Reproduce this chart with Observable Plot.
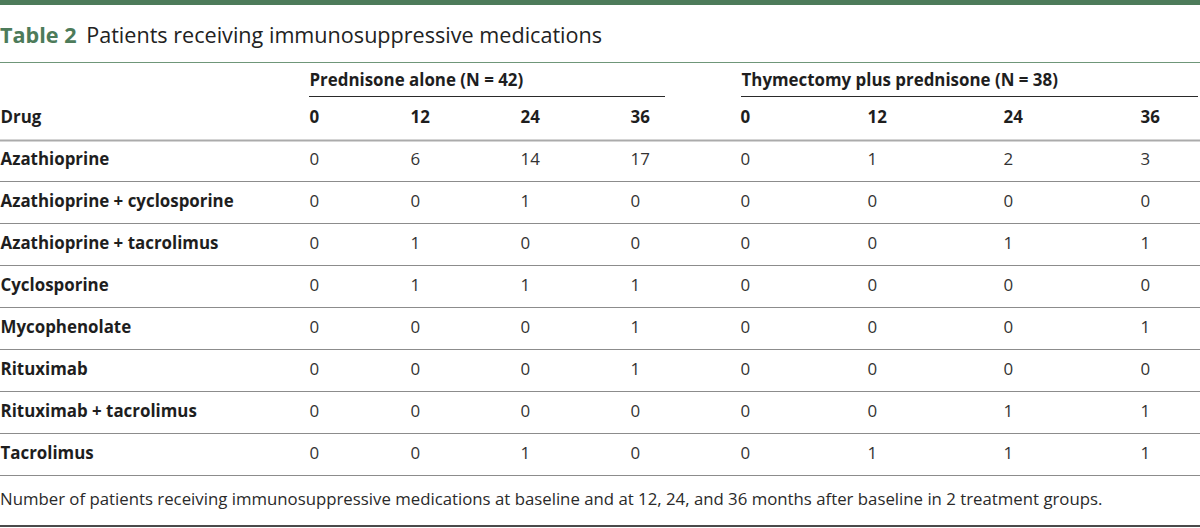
<!DOCTYPE html>
<html>
<head>
<meta charset="utf-8">
<script src="https://cdn.jsdelivr.net/npm/d3@7"></script>
<script src="https://cdn.jsdelivr.net/npm/@observablehq/plot@0.6"></script>
<style>
  html, body { margin: 0; padding: 0; background: #fff; }
  body { width: 1200px; height: 528px; overflow: hidden; position: relative; font-family: "Open Sans", sans-serif; }
  #bar { position: absolute; left: 0; top: 0; width: 1200px; height: 5px; background: #4d7b5a; }
  #title { position: absolute; left: 0; top: 21px; font-size: 21.6px; line-height: 28px; color: #222; white-space: nowrap; }
  #title b { color: #4d7b5a; font-weight: 700; margin-right: 4px; }
  #toprule { position: absolute; left: 0; top: 62px; width: 1200px; height: 1px; background: #6f9679; }
  #chart { position: absolute; left: 0; top: 64px; }
  #caption { position: absolute; left: 0; top: 488px; font-size: 16.8px; line-height: 22px; color: #2a2a2a; white-space: nowrap; }
  #bottom { position: absolute; left: 0; top: 525px; width: 1200px; height: 2px; background: #4a4a4a; }
</style>
</head>
<body>
<div id="bar"></div>
<div id="title"><b>Table 2</b> Patients receiving immunosuppressive medications</div>
<div id="toprule"></div>
<div id="chart"></div>
<div id="caption">Number of patients receiving immunosuppressive medications at baseline and at 12, 24, and 36 months after baseline in 2 treatment groups.</div>
<div id="bottom"></div>
<script>
// ---- data ----
const drugs = [
  "Azathioprine",
  "Azathioprine + cyclosporine",
  "Azathioprine + tacrolimus",
  "Cyclosporine",
  "Mycophenolate",
  "Rituximab",
  "Rituximab + tacrolimus",
  "Tacrolimus"
];
const months = [0, 12, 24, 36];
const groups = ["Prednisone alone (N = 42)", "Thymectomy plus prednisone (N = 38)"];
const drugHeader = "Drug";
const prednisoneAlone = [
  [0, 6, 14, 17],
  [0, 0, 1, 0],
  [0, 1, 0, 0],
  [0, 1, 1, 1],
  [0, 0, 0, 1],
  [0, 0, 0, 1],
  [0, 0, 0, 0],
  [0, 0, 1, 0]
];
const thymectomyPlusPrednisone = [
  [0, 1, 2, 3],
  [0, 0, 0, 0],
  [0, 0, 1, 1],
  [0, 0, 0, 0],
  [0, 0, 0, 1],
  [0, 0, 0, 0],
  [0, 0, 1, 1],
  [0, 1, 1, 1]
];

// ---- layout (pixel units, not data) ----
const W = 1200, H = 414;
const colLeft = [[309, 410, 520, 630], [740, 867, 1003, 1140]];
const groupSpan = [[309, 665], [741, 1198]];
const groupTextY = 16, groupRuleY = 32;
const headerY = 53.5, headerRuleY = 76;
const rowY0 = 95.5, rowStep = 42;
const rowY = i => rowY0 + i * rowStep;
const rowRuleY = i => 117 + i * rowStep;

const groupValues = [prednisoneAlone, thymectomyPlusPrednisone];
const cells = [];
groupValues.forEach((vals, g) => drugs.forEach((drug, i) => months.forEach((m, j) => {
  cells.push({group: groups[g], g, drug, i, month: m, j, value: vals[i][j]});
})));
const headers = [];
groups.forEach((grp, g) => months.forEach((m, j) => headers.push({group: grp, g, month: m, j})));
const groupRows = groups.map((name, g) => ({name, g}));

const font = {fontFamily: "Open Sans", fontSize: 16.9};

const chart = Plot.plot({
  width: W,
  height: H,
  margin: 0,
  style: {fontFamily: "Open Sans", fontSize: "16.9px", background: "transparent"},
  x: {type: "linear", domain: [0, W], range: [0, W], axis: null},
  y: {type: "linear", domain: [0, H], range: [0, H], axis: null},
  marks: [
    // group headings and their underlines
    Plot.text(groupRows, {x: d => groupSpan[d.g][0], y: groupTextY, text: "name", textAnchor: "start", fontWeight: 700, fill: "#1e1e1e", ...font}),
    Plot.ruleY(groupRows, {y: groupRuleY, x1: d => groupSpan[d.g][0], x2: d => groupSpan[d.g][1], stroke: "#2a2a2a", strokeWidth: 1}),
    // column headers
    Plot.text([drugHeader], {x: 0, y: headerY, text: d => d, textAnchor: "start", fontWeight: 700, fill: "#1e1e1e", ...font}),
    Plot.text(headers, {x: d => colLeft[d.g][d.j], y: headerY, text: d => String(d.month), textAnchor: "start", fontWeight: 700, fill: "#1e1e1e", ...font}),
    Plot.ruleY([headerRuleY], {stroke: "#ababab", strokeWidth: 2}),
    // drug names
    Plot.text(drugs, {x: 0, y: (d, i) => rowY(i), text: d => d, textAnchor: "start", fontWeight: 700, fill: "#1e1e1e", ...font}),
    // values
    Plot.text(cells, {x: d => colLeft[d.g][d.j], y: d => rowY(d.i), text: d => String(d.value), textAnchor: "start", fill: "#333", ...font}),
    // row separators
    Plot.ruleY(drugs, {y: (d, i) => rowRuleY(i), stroke: "#8c8c8c", strokeWidth: 1})
  ]
});
document.getElementById("chart").appendChild(chart);
</script>
</body>
</html>
